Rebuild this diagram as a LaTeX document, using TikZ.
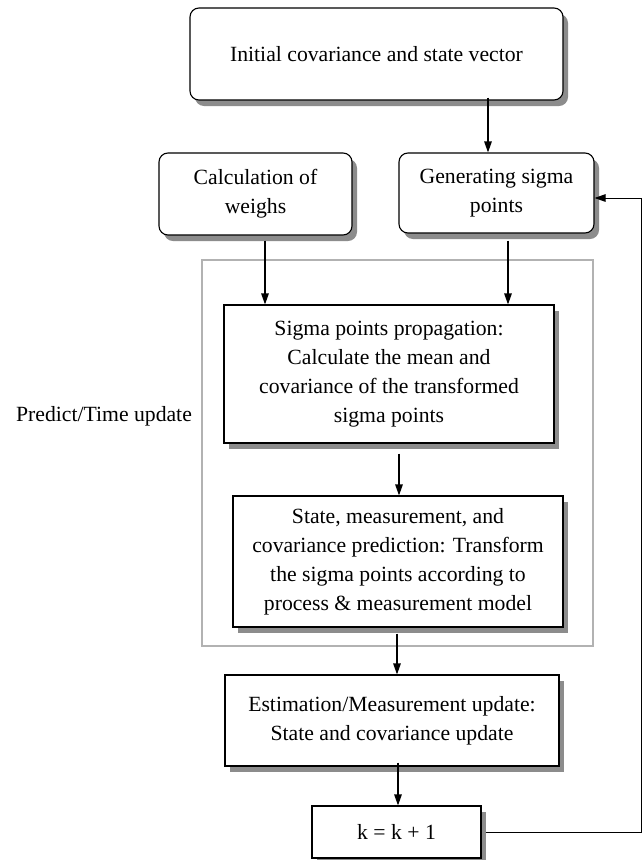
\documentclass[tikz,border=0pt]{standalone}
\usepackage{fontspec}
\setmainfont{Liberation Serif}
\usetikzlibrary{shadows,arrows.meta}
\begin{document}
\begin{tikzpicture}[x=1pt,y=-1pt,
  every node/.style={font=\fontsize{21.7pt}{29pt}\selectfont, align=center, inner sep=0pt},
  boxbase/.style={draw=black, line width=1.1pt, fill=white,
    general shadow={fill=black!45, shadow xshift=5pt, shadow yshift=-6pt}},
  rbox/.style={boxbase, rounded corners=9pt},
  sbox/.style={boxbase},
  arr/.style={line width=1.2pt, -{Triangle[length=11pt,width=7.5pt]}},
  fbline/.style={line width=1pt, -{Triangle[length=11pt,width=7.5pt]}},
  framebox/.style={draw=black!30, line width=1.5pt}
]
\useasboundingbox (0,0) rectangle (643,860);
\fill[white] (0,0) rectangle (643,860);

\draw[framebox] (202,260) rectangle (593,646);

\node[rbox, minimum width=373pt, minimum height=92pt] (top) at (376.5,54) {Initial covariance and state vector};
\node[rbox, minimum width=193pt, minimum height=82pt] (weigh) at (255.5,194) {Calculation of\\weighs};
\node[rbox, minimum width=195pt, minimum height=80pt] (gen) at (496.5,193) {Generating sigma\\points};
\node[sbox, minimum width=330pt, minimum height=138pt] (sig) at (389,374) {Sigma points propagation:\\Calculate the mean and\\covariance of the transformed\\sigma points};
\node[sbox, minimum width=330pt, minimum height=131pt] (state) at (398,561.5) {State, measurement, and\\covariance prediction: Transform\\the sigma points according to\\process \& measurement model};
\node[sbox, minimum width=334pt, minimum height=91pt] (est) at (392,720.5) {Estimation/Measurement update:\\State and covariance update};
\node[sbox, minimum width=169pt, minimum height=52pt] (k) at (396.5,832) {k = k + 1};

\node (lbl) at (104,416) {Predict/Time update};

\coordinate (c1) at (488,0);
\coordinate (c2) at (265,0);
\coordinate (c3) at (508,0);
\coordinate (c4) at (399,0);
\coordinate (c5) at (397,0);
\coordinate (c6) at (398,0);
\coordinate (fb) at (641,198);

\draw[arr] ([yshift=3pt]top.south -| c1) -- (gen.north -| c1);
\draw[arr] ([yshift=-5pt]weigh.south -| c2) -- (sig.north -| c2);
\draw[arr] ([yshift=-7pt]gen.south -| c3) -- (sig.north -| c3);
\draw[arr] ([yshift=-10pt]sig.south -| c4) -- (state.north -| c4);
\draw[arr] ([yshift=-6pt]state.south -| c5) -- (est.north -| c5);
\draw[arr] ([yshift=4pt]est.south -| c6) -- (k.north -| c6);
\draw[fbline] ([xshift=4pt]k.east) -| (fb) -- (fb -| gen.east);
\end{tikzpicture}
\end{document}
